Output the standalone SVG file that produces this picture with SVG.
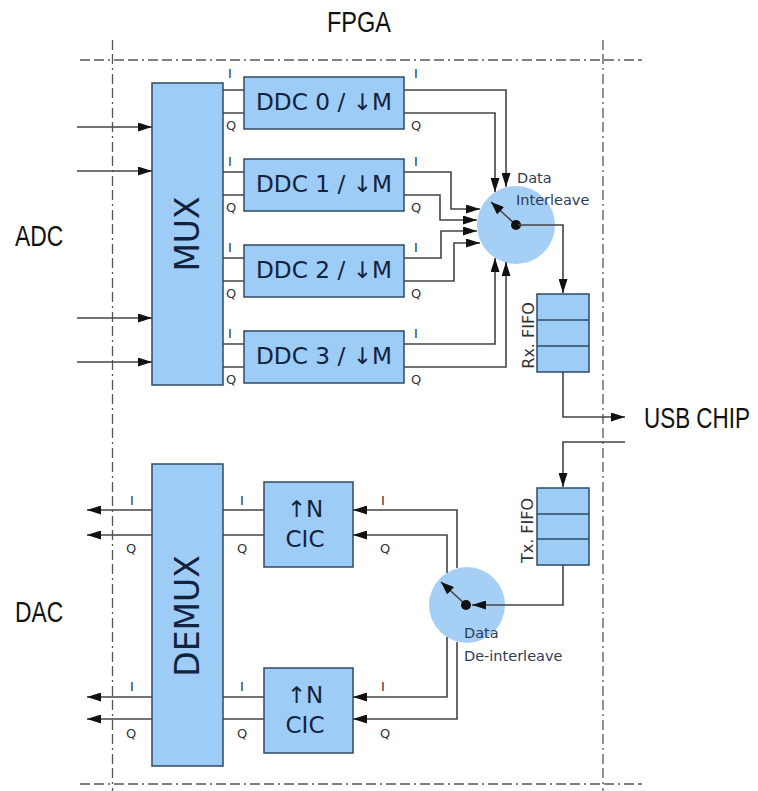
<svg xmlns="http://www.w3.org/2000/svg" width="758" height="791" viewBox="0 0 758 791">
<style>
.frame{stroke:#555;stroke-width:1.3;fill:none;stroke-dasharray:10 4 10 4 2 4}
.box{fill:#9dcdf7;stroke:#2e4a66;stroke-width:1.5}
.disk{fill:#a6cff5}
.ln{stroke:#444;stroke-width:1.6;fill:none}
.arr{marker-end:url(#ah)}
.big{font-family:"Liberation Sans",Arial,sans-serif;font-size:29px;fill:#111}
.lbl{font-family:"DejaVu Sans","Liberation Sans",sans-serif;font-size:23px;fill:#13223d;text-anchor:middle}
.mux{font-family:"DejaVu Sans","Liberation Sans",sans-serif;font-size:33px;fill:#13223d;text-anchor:middle}
.fifo{font-family:"DejaVu Sans","Liberation Sans",sans-serif;font-size:16px;fill:#333;text-anchor:middle}
.sm{font-family:"DejaVu Sans","Liberation Sans",sans-serif;font-size:13px;fill:#333;text-anchor:middle}
.cap{font-family:"DejaVu Sans","Liberation Sans",sans-serif;font-size:14.5px;fill:#2e3c55}
</style>
<defs>
<marker id="ah" viewBox="0 0 14 9" refX="14" refY="4.5" markerWidth="14" markerHeight="9" markerUnits="userSpaceOnUse" orient="auto"><path d="M0,0 L14,4.5 L0,9 z" fill="#111"/></marker>
<marker id="ptr" viewBox="0 0 13 10" refX="13" refY="5" markerWidth="13" markerHeight="10" markerUnits="userSpaceOnUse" orient="auto"><path d="M0,0 L13,5 L0,10 z" fill="#111"/></marker>
</defs>
<rect width="758" height="791" fill="#fff"/>
<g id="frame">
<line class="frame" x1="80" y1="60" x2="642" y2="60"/>
<line class="frame" x1="80" y1="784" x2="642" y2="784"/>
<line class="frame" x1="112.5" y1="40" x2="112.5" y2="791"/>
<line class="frame" x1="603" y1="40" x2="603" y2="791"/>
</g>
<g id="labels">
<text class="big" transform="translate(327,32) scale(0.81,1)">FPGA</text>
<text class="big" transform="translate(15,246) scale(0.787,1)">ADC</text>
<text class="big" transform="translate(15,622) scale(0.787,1)">DAC</text>
<text class="big" transform="translate(644,428) scale(0.774,1)">USB CHIP</text>
</g>
<g id="mux">
<rect class="box" x="152" y="83" width="71" height="302"/>
<text class="mux" transform="translate(199,234) rotate(-90)">MUX</text>
</g>
<g id="ddc0">
<rect class="box" x="244" y="77" width="160" height="52"/>
<text class="lbl" x="324" y="110" textLength="136" lengthAdjust="spacingAndGlyphs">DDC 0 / ↓M</text>
</g>
<g id="ddc1">
<rect class="box" x="244" y="159" width="160" height="52"/>
<text class="lbl" x="324" y="192" textLength="136" lengthAdjust="spacingAndGlyphs">DDC 1 / ↓M</text>
</g>
<g id="ddc2">
<rect class="box" x="244" y="245" width="160" height="52"/>
<text class="lbl" x="324" y="278" textLength="136" lengthAdjust="spacingAndGlyphs">DDC 2 / ↓M</text>
</g>
<g id="ddc3">
<rect class="box" x="244" y="331" width="160" height="52"/>
<text class="lbl" x="324" y="364" textLength="136" lengthAdjust="spacingAndGlyphs">DDC 3 / ↓M</text>
</g>
<g id="interleave">
<circle class="disk" cx="516" cy="225" r="39"/>
<path class="ln" style="marker-end:url(#ptr)" d="M516,225 L491,202"/>
<circle cx="516" cy="225" r="5" fill="#111"/>
<text class="cap" x="517" y="183">Data</text>
<text class="cap" x="516" y="205">Interleave</text>
</g>
<g id="rx-fifo">
<rect class="box" x="537" y="294" width="52" height="78"/>
<line class="box" x1="537" y1="320" x2="589" y2="320"/>
<line class="box" x1="537" y1="346" x2="589" y2="346"/>
<text class="fifo" transform="translate(534,335.5) rotate(-90)">Rx. FIFO</text>
</g>
<g id="tx-fifo">
<rect class="box" x="537" y="488" width="52" height="77"/>
<line class="box" x1="537" y1="514" x2="589" y2="514"/>
<line class="box" x1="537" y1="539" x2="589" y2="539"/>
<text class="fifo" transform="translate(533,530.5) rotate(-90)">Tx. FIFO</text>
</g>
<g id="deinterleave">
<circle class="disk" cx="467" cy="605" r="38"/>
<path class="ln" style="marker-end:url(#ptr)" d="M466,605 L441,582"/>
<circle cx="466" cy="605" r="5" fill="#111"/>
<text class="cap" x="464" y="638">Data</text>
<text class="cap" x="464" y="661">De-interleave</text>
</g>
<g id="demux">
<rect class="box" x="152" y="464" width="71" height="302"/>
<text class="mux" transform="translate(199,616) rotate(-90)">DEMUX</text>
</g>
<g id="cic0">
<rect class="box" x="264" y="482" width="89" height="85"/>
<text class="lbl" x="305" y="517">↑N</text>
<text class="lbl" x="305" y="547">CIC</text>
</g>
<g id="cic1">
<rect class="box" x="264" y="668" width="89" height="85"/>
<text class="lbl" x="305" y="703">↑N</text>
<text class="lbl" x="305" y="733">CIC</text>
</g>
<g id="connectors">
<path class="ln arr" d="M77,127 H152"/>
<path class="ln arr" d="M77,171 H152"/>
<path class="ln arr" d="M77,318 H152"/>
<path class="ln arr" d="M77,362 H152"/>
<path class="ln" d="M223,90 H244 M223,113 H244 M223,172 H244 M223,195 H244 M223,258 H244 M223,281 H244 M223,344 H244 M223,367 H244"/>
<path class="ln arr" d="M404,90 H506 V187"/>
<path class="ln arr" d="M404,113 H495 V192"/>
<path class="ln arr" d="M404,172 H451 V209 H480"/>
<path class="ln arr" d="M404,195 H440 V220 H477"/>
<path class="ln arr" d="M404,258 H441 V231 H477"/>
<path class="ln arr" d="M404,281 H454 V243 H480"/>
<path class="ln arr" d="M404,344 H495 V258"/>
<path class="ln arr" d="M404,367 H506 V262"/>
<path class="ln arr" d="M518,225 H563 V293"/>
<path class="ln arr" d="M563,372 V417 H625"/>
<path class="ln arr" d="M625,442 H563 V487"/>
<path class="ln arr" d="M563,565 V605 H472"/>
<path class="ln arr" d="M457,568 V510 H353"/>
<path class="ln arr" d="M447,573 V535 H353"/>
<path class="ln arr" d="M447,637 V697 H353"/>
<path class="ln arr" d="M457,642 V719 H353"/>
<path class="ln" d="M264,510 H223 M264,535 H223 M264,697 H223 M264,719 H223"/>
<path class="ln arr" d="M152,510 H87"/>
<path class="ln arr" d="M152,535 H87"/>
<path class="ln arr" d="M152,697 H87"/>
<path class="ln arr" d="M152,719 H87"/>
</g>
<g id="iq-labels">
<text class="sm" x="230" y="78">I</text><text class="sm" x="231" y="130">Q</text>
<text class="sm" x="416" y="78">I</text><text class="sm" x="416" y="130">Q</text>
<text class="sm" x="230" y="166">I</text><text class="sm" x="231" y="212">Q</text>
<text class="sm" x="416" y="166">I</text><text class="sm" x="416" y="212">Q</text>
<text class="sm" x="230" y="252">I</text><text class="sm" x="231" y="298">Q</text>
<text class="sm" x="416" y="252">I</text><text class="sm" x="416" y="298">Q</text>
<text class="sm" x="230" y="338">I</text><text class="sm" x="231" y="384">Q</text>
<text class="sm" x="416" y="338">I</text><text class="sm" x="416" y="384">Q</text>
<text class="sm" x="132" y="505">I</text><text class="sm" x="131" y="553">Q</text>
<text class="sm" x="242" y="505">I</text><text class="sm" x="242" y="553">Q</text>
<text class="sm" x="383" y="505">I</text><text class="sm" x="385" y="553">Q</text>
<text class="sm" x="132" y="691">I</text><text class="sm" x="131" y="738">Q</text>
<text class="sm" x="242" y="691">I</text><text class="sm" x="242" y="738">Q</text>
<text class="sm" x="383" y="691">I</text><text class="sm" x="385" y="738">Q</text>
</g>
</svg>
